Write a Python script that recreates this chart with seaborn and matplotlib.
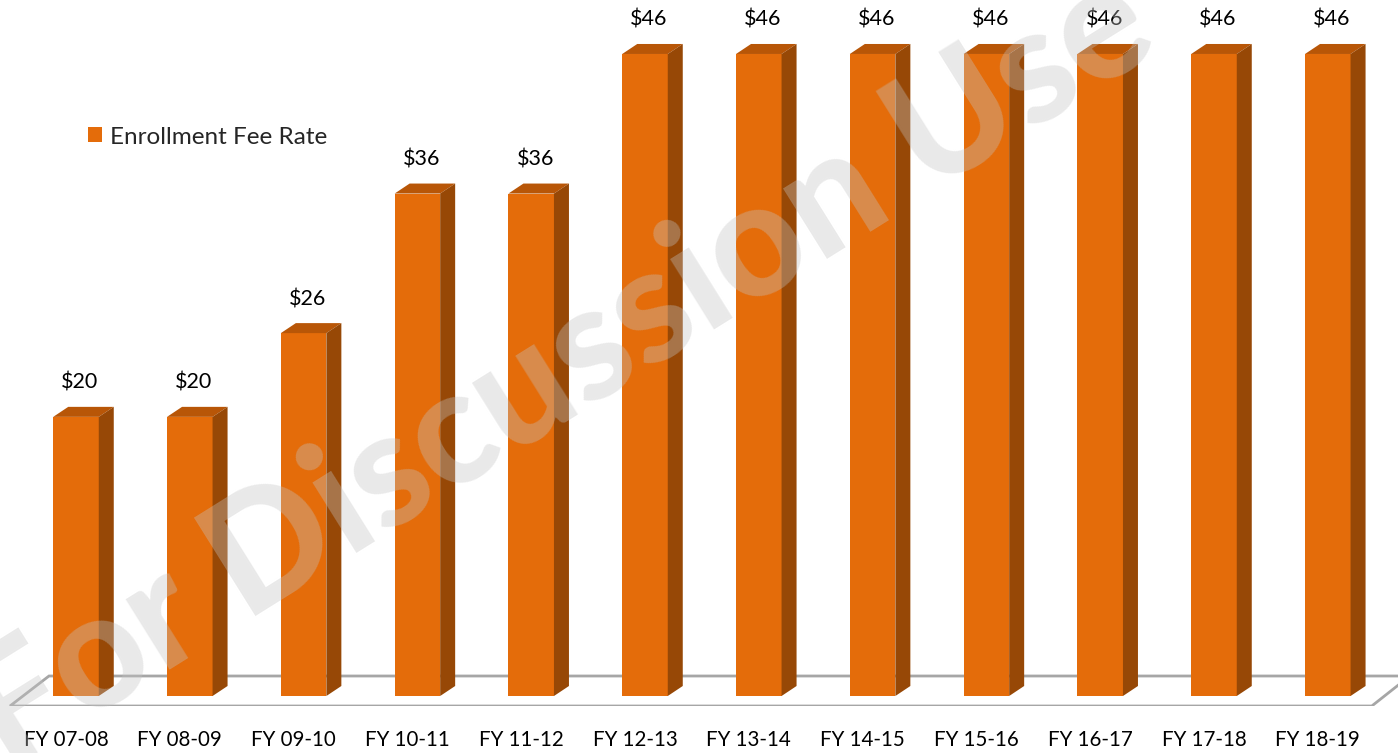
import numpy as np
import pandas as pd
import matplotlib
matplotlib.use("Agg")
import matplotlib.pyplot as plt
import seaborn as sns
from matplotlib.patches import Polygon
from matplotlib.transforms import ScaledTranslation

# ---- data ----
years = ["FY 07-08", "FY 08-09", "FY 09-10", "FY 10-11", "FY 11-12", "FY 12-13",
         "FY 13-14", "FY 14-15", "FY 15-16", "FY 16-17", "FY 17-18", "FY 18-19"]
fee_rate = [20, 20, 26, 36, 36, 46, 46, 46, 46, 46, 46, 46]
series_name = "Enrollment Fee Rate"
value_labels = [f"${v}" for v in fee_rate]
watermark = "For Discussion Use"

# ---- style ----
sns.set_theme(style="white")
plt.rcParams['font.family'] = ['Lato', 'DejaVu Sans']

FRONT = "#E46C0A"
TOP = "#B85607"
SIDE = "#974806"
FLOOR_EDGE = "#a6a6a6"

W, H = 1398, 753
DPI = 100
fig = plt.figure(figsize=(W / DPI, H / DPI), dpi=DPI)
fig.patch.set_facecolor("white")
bottom_px = 47
ax = fig.add_axes([0, bottom_px / H, 1, (H - bottom_px) / H])

df = pd.DataFrame({"year": years, "fee": fee_rate})
sns.barplot(data=df, x="year", y="fee", color=FRONT, saturation=1, width=0.4,
            linewidth=0, ax=ax, label=series_name, zorder=3)

# axis scales (pixel geometry of the reference)
px_per_cat = 113.8
px_per_unit = 13.957
first_center_px = 76
zero_px = 696
ax.set_xlim(-first_center_px / px_per_cat, (W - first_center_px) / px_per_cat)
ax.set_ylim(-(H - bottom_px - zero_px) / px_per_unit, zero_px / px_per_unit)

# 3D depth offsets in data units
dx = 15 / px_per_cat
dy = 10 / px_per_unit

bars = [p for p in ax.patches]
for p in bars:
    x0, y0, w, h = p.get_x(), p.get_y(), p.get_width(), p.get_height()
    top = Polygon([(x0, y0 + h), (x0 + dx, y0 + h + dy), (x0 + w + dx, y0 + h + dy), (x0 + w, y0 + h)],
                  closed=True, facecolor=TOP, edgecolor="none", zorder=3)
    side = Polygon([(x0 + w, y0), (x0 + w + dx, y0 + dy), (x0 + w + dx, y0 + h + dy), (x0 + w, y0 + h)],
                   closed=True, facecolor=SIDE, edgecolor="none", zorder=3)
    ax.add_patch(top)
    ax.add_patch(side)

# floor
n = len(years)
fy_front = -10 / px_per_unit
fy_back = 20 / px_per_unit
floor = Polygon([(-66 / px_per_cat, fy_front), (n - 1 + 44 / px_per_cat, fy_front),
                 (n - 1 + 82 / px_per_cat, fy_back), (-27 / px_per_cat, fy_back)],
                closed=True, facecolor="white", edgecolor=FLOOR_EDGE, linewidth=2, zorder=1)
ax.add_patch(floor)

# value labels
for p, lab in zip(bars, value_labels):
    cx = p.get_x() + p.get_width() / 2
    ax.annotate(lab, (cx, p.get_height()), xytext=(4, 28), textcoords="offset pixels",
                ha="center", va="baseline", fontsize=15.5, color="black", zorder=5)

# axes cosmetics
for s in ax.spines.values():
    s.set_visible(False)
ax.set_xlabel("")
ax.set_ylabel("")
ax.set_yticks([])
ax.tick_params(axis="x", length=0, pad=17, labelsize=14.8, labelcolor="black")
for lab in ax.get_xticklabels():
    lab.set_transform(lab.get_transform() + ScaledTranslation(-10 / DPI, 0, fig.dpi_scale_trans))

# legend
leg = ax.legend(loc="center left", bbox_to_anchor=(88 / W, 1 - 137 / H), bbox_transform=fig.transFigure,
                frameon=False, fontsize=17.5, handlelength=0.58, handleheight=0.58,
                handletextpad=0.32, borderpad=0, borderaxespad=0)

# watermark
fig.text(560 / W, 1 - 371 / H, watermark, rotation=32, rotation_mode="anchor",
         ha="center", va="center", fontsize=115, fontweight="black",
         family=["Lato"],
         color="#c4c4c4", alpha=0.36, zorder=10)

fig.savefig("out.png", dpi=DPI, facecolor="white")
